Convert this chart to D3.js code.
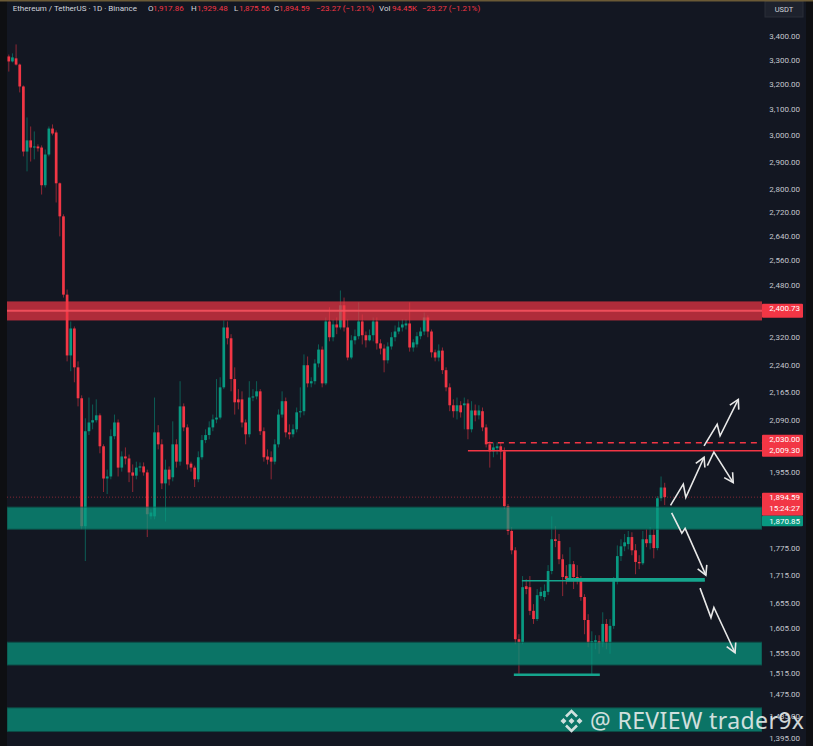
<!DOCTYPE html>
<html>
<head>
<meta charset="utf-8">
<script src="https://cdn.jsdelivr.net/npm/d3@7"></script>
<style>
  html, body { margin: 0; padding: 0; background: #131722; }
  svg { display: block; }
</style>
</head>
<body>
<svg id="chart" width="813" height="746"></svg>
<script>
// daily ETH/USDT candles (oldest first)
const opens = [3315,3294,3307,3281,3191,2938,2980,2953,2957,2953,2815,2927,3025,3010,2822,2706,2450,2268,2347,2234,
  2148,1826,2060,2083,2089,2102,2021,1940,1945,2047,2083,1967,1995,1990,1955,1947,1967,1970,1955,1849,
  1849,2057,2026,1928,1962,1943,2026,1982,2126,2070,1977,1967,1938,1993,2037,2050,2070,2091,2096,2178,
  2350,2318,2201,2145,2145,2083,2052,2150,2153,2167,2060,1995,1993,1982,2026,2104,2140,2057,2052,2065,
  2110,2113,2240,2189,2195,2245,2285,2189,2368,2321,2359,2350,2417,2350,2262,2312,2324,2368,2327,2312,
  2327,2368,2303,2288,2254,2294,2321,2338,2350,2356,2362,2291,2300,2324,2338,2380,2338,2277,2262,2282,
  2226,2178,2129,2113,2129,2129,2134,2065,2115,2102,2113,2070,2026,2008,2016,2021,2008,1873,1815,1771,
  1582,1576,1692,1690,1640,1623,1671,1669,1680,1725,1796,1792,1751,1714,1707,1740,1712,1707,1669,1621,
  1576,1576,1578,1574,1613,1576,1609,1703,1758,1780,1785,1801,1771,1745,1742,1796,1787,1806,1776,1892,
  1917.86];
const highs = [3323,3328,3366,3285,3195,3068,3033,3014,2965,2961,2946,3033,3041,3018,2825,2713,2466,2368,2353,2251,
  2156,2094,2150,2131,2145,2107,2026,1962,2065,2104,2091,2008,2018,2000,1975,1982,1980,1980,1962,1866,
  2150,2076,2039,1987,1970,2086,2039,2195,2134,2078,1982,1972,2008,2050,2065,2086,2104,2201,2206,2371,
  2368,2330,2234,2173,2167,2091,2195,2173,2195,2173,2070,2013,2008,2039,2118,2167,2150,2078,2078,2123,
  2178,2271,2265,2206,2257,2300,2294,2380,2411,2374,2380,2463,2441,2374,2327,2344,2426,2389,2338,2344,
  2380,2380,2315,2300,2306,2336,2356,2368,2374,2374,2426,2315,2336,2350,2395,2386,2344,2285,2300,2291,
  2234,2189,2145,2150,2140,2150,2145,2140,2131,2129,2123,2078,2034,2031,2031,2029,2018,1878,1824,1778,
  1592,1714,1707,1714,1654,1686,1690,1696,1738,1849,1826,1808,1762,1738,1778,1747,1738,1714,1675,1633,
  1598,1590,1590,1637,1623,1623,1712,1782,1796,1808,1815,1812,1785,1760,1815,1819,1824,1819,1897,1945,
  1929.48];
const lows = [3252,3290,3277,3167,2920,2865,2901,2909,2938,2782,2807,2920,2999,2754,2638,2441,2251,2223,2192,2126,
  1819,1747,2050,2065,2083,2003,1907,1902,1938,2039,1945,1957,1975,1931,1907,1938,1957,1947,1801,1842,
  1842,2013,1914,1837,1923,1933,1967,1972,2060,1962,1957,1919,1931,1987,2029,2039,2060,2081,2091,2173,
  2300,2167,2104,2118,2070,2026,2044,2140,2145,2050,1982,1975,1938,1975,2018,2096,2044,2039,2044,2057,
  2096,2102,2178,2178,2186,2234,2178,2184,2309,2309,2330,2344,2338,2254,2257,2300,2315,2300,2291,2309,
  2309,2285,2271,2220,2245,2285,2309,2330,2338,2344,2279,2279,2291,2315,2327,2321,2262,2251,2251,2215,
  2167,2113,2096,2091,2096,2065,2039,2057,2086,2091,2060,2018,1967,1993,2000,1987,1866,1806,1762,1572,
  1514,1572,1675,1631,1613,1619,1665,1661,1673,1718,1778,1740,1671,1696,1707,1686,1696,1661,1592,1566,
  1510,1562,1553,1566,1562,1553,1603,1696,1747,1769,1773,1760,1718,1729,1738,1778,1773,1753,1771,1885,
  1875.56];
const closes = [3294,3311,3281,3191,2938,2980,2953,2957,2950,2815,2927,3025,3006,2822,2706,2450,2268,2347,2234,2148,
  1826,2060,2083,2089,2102,2021,1940,1945,2047,2083,1967,1995,1990,1955,1947,1967,1970,1955,1854,1858,
  2057,2026,1928,1962,1938,2026,1982,2126,2070,1975,1967,1938,1993,2037,2050,2070,2091,2096,2178,2350,
  2318,2201,2137,2137,2083,2052,2150,2153,2167,2060,1993,1987,1982,2026,2104,2140,2057,2052,2065,2110,
  2113,2240,2189,2195,2245,2285,2189,2368,2321,2359,2350,2417,2350,2262,2312,2324,2368,2327,2312,2327,
  2368,2303,2288,2254,2294,2321,2338,2350,2359,2362,2291,2306,2324,2338,2380,2338,2277,2262,2282,2226,
  2178,2129,2113,2129,2110,2134,2065,2115,2102,2115,2070,2026,2008,2018,2021,2008,1873,1815,1771,1582,
  1576,1690,1686,1640,1623,1673,1680,1682,1725,1796,1792,1751,1712,1707,1740,1712,1707,1669,1621,1576,
  1578,1580,1574,1613,1576,1609,1703,1758,1780,1789,1801,1771,1745,1742,1796,1787,1806,1776,1892,1918,
  1894.59];

// price scale ticks shown on the right
const tickValues = [3400,3300,3200,3100,3000,2900,2800,2720,2640,2560,2480,2320,2240,2165,2090,1955,1775,1715,1655,1605,1555,1515,1475,1435,1395];

// drawn levels
const redZone = { top: 2429, bottom: 2371, mid: 2400.73 };
const tealZones = [[1870.85, 1819], [1576, 1531], [1450, 1407]];
const resistance = { solid: 2009.30, dashed: 2030.00, solidFrom: 126, dashedFrom: 131.2 };
const lastPrice = 1894.59;
const supportLines = [
  { price: 1704, from: 140.8, to: 191, w: 1.5 },
  { price: 1706, from: 152.9, to: 191, w: 3.5 },
  { price: 1512, from: 138.6, to: 162.2, w: 2.5 }
];
// projected paths: [bar index, price]
const arrows = [
  [[190.8, 2022], [194.4, 2078], [195.2, 2048], [200.2, 2145]],
  [[181.6, 1875], [185.1, 1926], [185.8, 1894], [190.8, 1993]],
  [[191.7, 1972], [193.5, 2006], [198.8, 1930]],
  [[181.9, 1857], [184.7, 1810], [185.6, 1821], [191.3, 1716]],
  [[189.7, 1688], [192.7, 1626], [193.5, 1647], [199.3, 1555]]
];

const header = [
  ["Ethereum / TetherUS · 1D · Binance", 12.7, "#d1d4dc"],
  ["O", 148, "#d1d4dc"], ["1,917.86", 153, "#f23645"],
  ["H", 191, "#d1d4dc"], ["1,929.48", 197, "#f23645"],
  ["L", 234, "#d1d4dc"], ["1,875.56", 239, "#f23645"],
  ["C", 274, "#d1d4dc"], ["1,894.59", 279, "#f23645"],
  ["−23.27 (−1.21%)", 316, "#f23645"],
  ["Vol", 379, "#d1d4dc"], ["94.45K", 392, "#f23645"],
  ["−23.27 (−1.21%)", 422, "#f23645"]
];

const UP = "#089981", DOWN = "#f23645";
const plotLeft = 7, plotRight = 762;

const svg = d3.select("#chart");
const x = d3.scaleLinear().domain([0, 180]).range([8.8, 664.7]);
const y = d3.scaleLog().domain([1395, 3400]).range([738.3, 36.5]);

const candles = opens.map((o, i) => ({ i, o, h: highs[i], l: lows[i], c: closes[i] }));

svg.append("rect").attr("width", 813).attr("height", 746).attr("fill", "#131722");

svg.append("defs").append("clipPath").attr("id", "plot")
  .append("rect").attr("x", plotLeft).attr("y", 0).attr("width", plotRight - plotLeft).attr("height", 746);

const plot = svg.append("g").attr("clip-path", "url(#plot)");

// candles
const cg = plot.append("g");
cg.selectAll("line.wick").data(candles).enter().append("line")
  .attr("x1", d => x(d.i)).attr("x2", d => x(d.i))
  .attr("y1", d => y(d.h)).attr("y2", d => y(d.l))
  .attr("stroke", d => d.c >= d.o ? UP : DOWN).attr("stroke-width", 1).attr("opacity", 0.55);
cg.selectAll("rect.body").data(candles).enter().append("rect")
  .attr("x", d => x(d.i) - 1.35).attr("width", 2.7)
  .attr("y", d => y(Math.max(d.o, d.c)))
  .attr("height", d => Math.max(1, y(Math.min(d.o, d.c)) - y(Math.max(d.o, d.c))))
  .attr("fill", d => d.c >= d.o ? UP : DOWN);

// last price dotted line
plot.append("line").attr("x1", plotLeft).attr("x2", plotRight)
  .attr("y1", y(lastPrice)).attr("y2", y(lastPrice))
  .attr("stroke", DOWN).attr("stroke-dasharray", "1,2").attr("opacity", 0.5);

// zones
plot.append("rect").attr("x", plotLeft).attr("width", plotRight - plotLeft)
  .attr("y", y(redZone.top)).attr("height", y(redZone.bottom) - y(redZone.top))
  .attr("fill", DOWN).attr("opacity", 0.7);
plot.append("line").attr("x1", plotLeft).attr("x2", plotRight)
  .attr("y1", y(redZone.mid)).attr("y2", y(redZone.mid))
  .attr("stroke", "#f5525f").attr("stroke-width", 2).attr("opacity", 0.9);

plot.selectAll("rect.teal").data(tealZones).enter().append("rect")
  .attr("x", plotLeft).attr("width", plotRight - plotLeft)
  .attr("y", d => y(d[0])).attr("height", d => y(d[1]) - y(d[0]))
  .attr("fill", UP).attr("opacity", 0.72)
  .attr("stroke", "#0a5f53").attr("stroke-width", 1);

// resistance lines
plot.append("line").attr("x1", x(resistance.solidFrom)).attr("x2", plotRight)
  .attr("y1", y(resistance.solid)).attr("y2", y(resistance.solid))
  .attr("stroke", DOWN).attr("stroke-width", 1.5);
plot.append("line").attr("x1", x(resistance.dashedFrom)).attr("x2", plotRight)
  .attr("y1", y(resistance.dashed)).attr("y2", y(resistance.dashed))
  .attr("stroke", DOWN).attr("stroke-width", 1.5).attr("stroke-dasharray", "6,5");

// support lines
plot.selectAll("line.sup").data(supportLines).enter().append("line")
  .attr("x1", d => x(d.from)).attr("x2", d => x(d.to))
  .attr("y1", d => y(d.price)).attr("y2", d => y(d.price))
  .attr("stroke", "#15a58d").attr("stroke-width", d => d.w);

// arrows
svg.select("defs").append("marker").attr("id", "head")
  .attr("markerUnits", "userSpaceOnUse").attr("orient", "auto")
  .attr("markerWidth", 14).attr("markerHeight", 14).attr("refX", 0).attr("refY", 0)
  .attr("viewBox", "-12 -7 14 14")
  .append("path").attr("d", "M-9,-5 L0,0 L-9,5").attr("fill", "none")
  .attr("stroke", "#e8e8e8").attr("stroke-width", 1.6);

const line = d3.line().x(d => x(d[0])).y(d => y(d[1]));
plot.selectAll("path.arrow").data(arrows).enter().append("path")
  .attr("d", line).attr("fill", "none").attr("stroke", "#e8e8e8")
  .attr("stroke-width", 1.6).attr("marker-end", "url(#head)");

// right price scale
const axis = svg.append("g");
axis.selectAll("text.tick").data(tickValues).enter().append("text")
  .attr("x", 800).attr("y", d => y(d)).attr("dy", "0.35em")
  .attr("text-anchor", "end").attr("font-family", "Roboto, sans-serif").attr("font-size", 8)
  .attr("fill", "#c3c6ce").text(d => d3.format(",.2f")(d));

function priceTag(yTop, h, color, lines) {
  axis.append("rect").attr("x", 762).attr("y", yTop).attr("width", 41).attr("height", h)
    .attr("fill", color).attr("rx", 1);
  lines.forEach((t, k) => {
    axis.append("text").attr("x", 800).attr("y", yTop + 7.5 + k * 10.5)
      .attr("text-anchor", "end").attr("font-family", "Roboto, sans-serif").attr("font-size", 8)
      .attr("fill", "#ffffff").text(t);
  });
}
const fmt = d3.format(",.2f");
priceTag(y(redZone.mid) - 7, 14, DOWN, [fmt(redZone.mid)]);
priceTag(y(resistance.dashed) - 8, 22, DOWN, [fmt(resistance.dashed), fmt(resistance.solid)]);
priceTag(y(lastPrice) - 4.5, 23, DOWN, [fmt(lastPrice), "15:24:27"]);
priceTag(y(lastPrice) + 18.5, 10.5, UP, []);
axis.append("text").attr("x", 800).attr("y", y(lastPrice) + 26.8)
  .attr("text-anchor", "end").attr("font-family", "Roboto, sans-serif").attr("font-size", 8)
  .attr("fill", "#ffffff").text(fmt(tealZones[0][0]));

// currency badge
axis.append("rect").attr("x", 765).attr("y", 1).attr("width", 38).attr("height", 16)
  .attr("fill", "#1e222d").attr("stroke", "#2a2e39");
axis.append("text").attr("x", 784).attr("y", 12).attr("text-anchor", "middle")
  .attr("font-family", "Roboto, sans-serif").attr("font-size", 7.5).attr("fill", "#d1d4dc").text("USDT");

// frame strips
svg.append("rect").attr("x", 0).attr("y", 0).attr("width", plotLeft).attr("height", 746).attr("fill", "#0e0f12");
svg.append("rect").attr("x", 806).attr("y", 0).attr("width", 7).attr("height", 746).attr("fill", "#0e0f12");
svg.append("rect").attr("x", 0).attr("y", 0).attr("width", 813).attr("height", 1.5).attr("fill", "#6b5a36");

// header
svg.append("g").selectAll("text").data(header).enter().append("text")
  .attr("x", d => d[1]).attr("y", 11).attr("font-family", "Roboto, sans-serif").attr("font-size", 8)
  .attr("fill", d => d[2]).text(d => d[0]);

// watermark
const wm = svg.append("g").attr("opacity", 0.9);
const logo = wm.append("g").attr("transform", "translate(571.5,721)")
  .attr("fill", "none").attr("stroke", "#e6eceb").attr("stroke-width", 2.6);
// binance-like mark: centre diamond, side diamonds and chevrons
logo.append("path").attr("d", "M0,-3 L3,0 L0,3 L-3,0 Z").attr("fill", "#e6eceb").attr("stroke", "none");
logo.append("path").attr("d", "M-11,0 L-8,-3 L-5,0 L-8,3 Z").attr("fill", "#e6eceb").attr("stroke", "none");
logo.append("path").attr("d", "M5,0 L8,-3 L11,0 L8,3 Z").attr("fill", "#e6eceb").attr("stroke", "none");
logo.append("path").attr("d", "M-5.5,-4.5 L0,-10 L5.5,-4.5");
logo.append("path").attr("d", "M-5.5,4.5 L0,10 L5.5,4.5");
wm.append("text").attr("x", 590).attr("y", 729).attr("font-family", "'Noto Sans', sans-serif")
  .attr("font-size", 23).attr("textLength", 214).attr("lengthAdjust", "spacing")
  .attr("fill", "#e6eceb").text("@ REVIEW trader9x");
</script>
</body>
</html>
